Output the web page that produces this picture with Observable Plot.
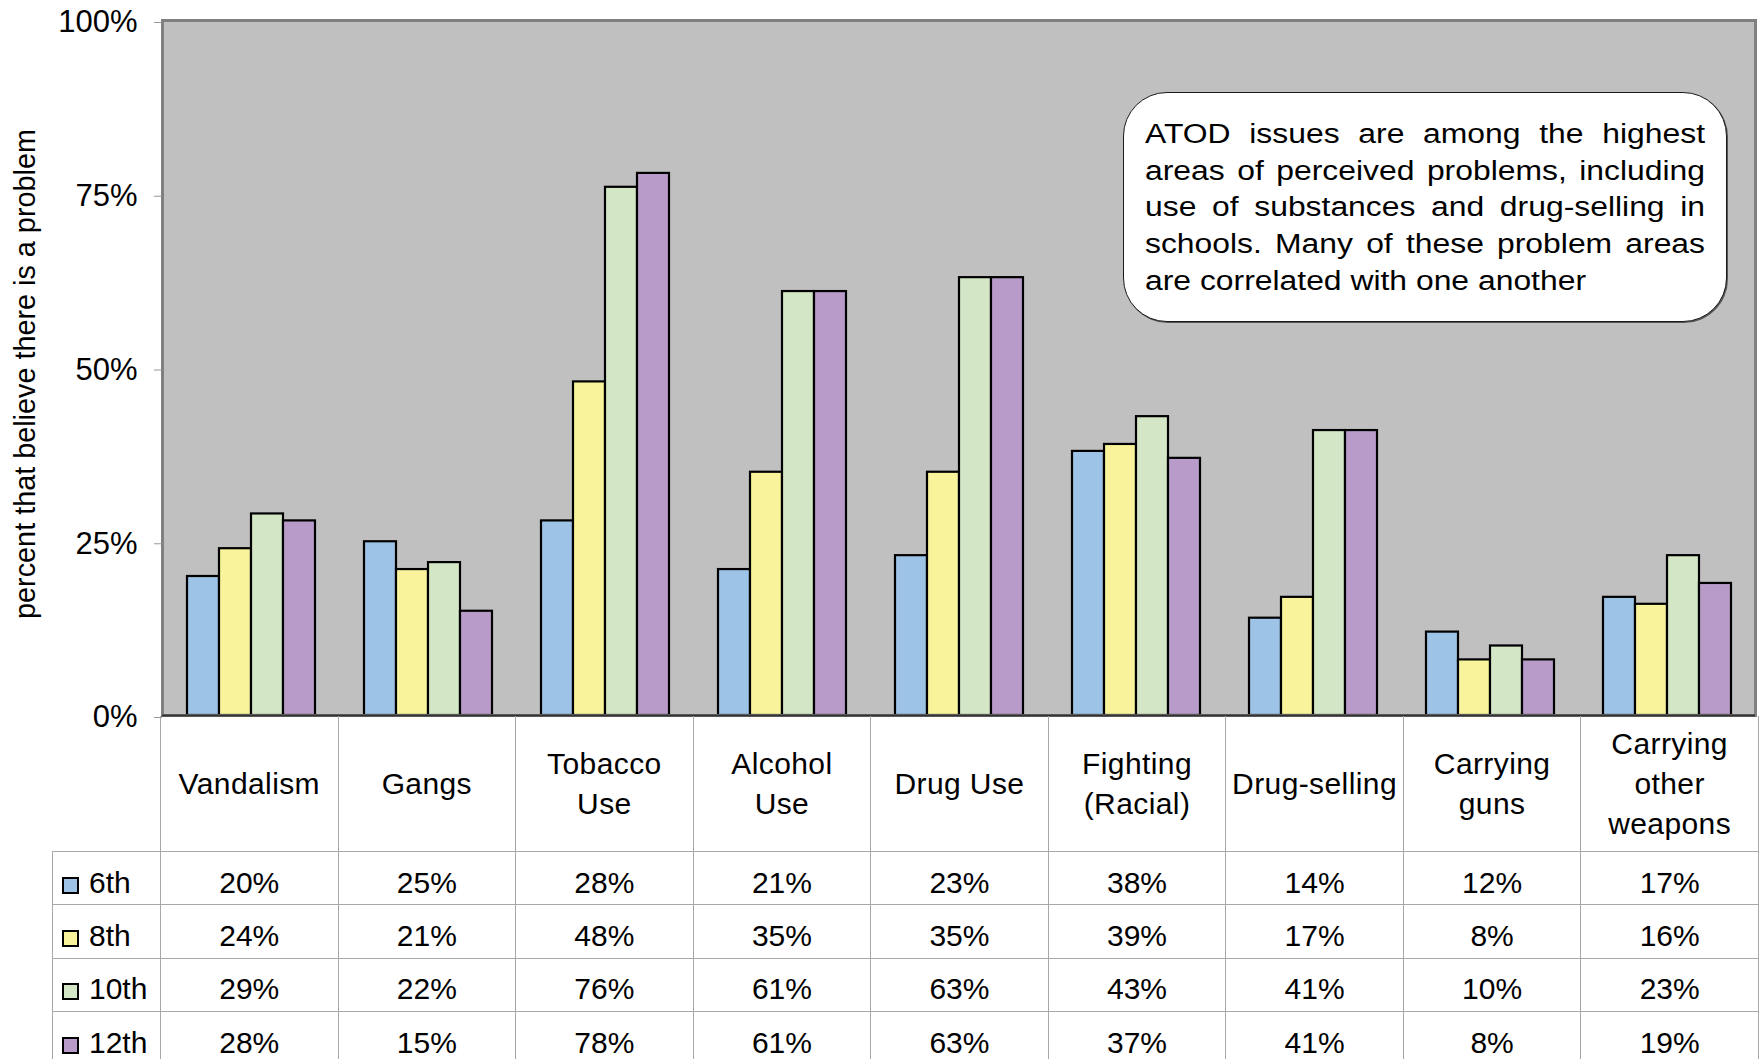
<!DOCTYPE html>
<html>
<head>
<meta charset="utf-8">
<script src="https://cdn.jsdelivr.net/npm/d3@7"></script>
<script src="https://cdn.jsdelivr.net/npm/@observablehq/plot@0.6"></script>
<style>
  html, body { margin: 0; padding: 0; background: #fff; }
  body { font-family: "Liberation Sans", Arial, sans-serif; color: #000; }
  #wrap { position: relative; width: 1762px; height: 1080px; overflow: hidden; }
  #chart { position: absolute; left: 0; top: 0; }
  #tbl { position: absolute; left: 52px; top: 716px; border-collapse: collapse; table-layout: fixed;
         width: 1706px; font-size: 30px; }
  #tbl td { border: 1px solid #a8a8a8; text-align: center; padding: 0; overflow: hidden; white-space: nowrap; }
  #tbl tr.cat td { height: 135px; line-height: 40px; vertical-align: middle; border-top: none; letter-spacing: 0.4px; }
  #tbl tr.cat td.corner { border-left: none; }
  #tbl tr.row td { height: 43.4px; vertical-align: middle; padding-top: 9px; line-height: 34px; }
  #tbl td.leg { text-align: left; padding-left: 9px; }
  .sw { display: inline-block; width: 13px; height: 13px; border: 2px solid #000; margin-right: 10px;
        vertical-align: -1px; }
  #note { position: absolute; left: 1123px; top: 92px; width: 604px; height: 230px; box-sizing: border-box;
          border: 1.5px solid #1a1a1a; border-radius: 44px; background: #fff;
          box-shadow: 1px 1px 0 #555; }
  #noteText { position: absolute; left: 20.5px; top: 23px; width: 474.6px; font-size: 27px; line-height: 36.7px;
              transform: scaleX(1.18); transform-origin: 0 0; }
  #noteText div { text-align: justify; text-align-last: justify; white-space: nowrap; }
  #noteText div.last { text-align-last: left; }
</style>
</head>
<body>
<div id="wrap">
  <div id="chart"></div>
  <div id="note"><div id="noteText"></div></div>
</div>
<script>
// ---- data ----
const categories = ["Vandalism", "Gangs", "Tobacco Use", "Alcohol Use", "Drug Use",
  "Fighting (Racial)", "Drug-selling", "Carrying guns", "Carrying other weapons"];
const categoryLabels = ["Vandalism", "Gangs", "Tobacco\nUse", "Alcohol\nUse", "Drug Use",
  "Fighting\n(Racial)", "Drug-selling", "Carrying\nguns", "Carrying\nother\nweapons"];
const grades = ["6th", "8th", "10th", "12th"];
const gradeColors = ["#9dc3e6", "#f9f39b", "#d3e6c6", "#b89bc8"];
const values6th  = [20, 25, 28, 21, 23, 38, 14, 12, 17];
const values8th  = [24, 21, 48, 35, 35, 39, 17,  8, 16];
const values10th = [29, 22, 76, 61, 63, 43, 41, 10, 23];
const values12th = [28, 15, 78, 61, 63, 37, 41,  8, 19];
const yTicks = [0, 25, 50, 75, 100];
const yTitle = "percent that believe there is a problem";
const noteLines = [
  "ATOD issues are among the highest",
  "areas of perceived problems, including",
  "use of substances and drug-selling in",
  "schools. Many of these problem areas",
  "are correlated with one another"
];

// ---- build ----
const series = [values6th, values8th, values10th, values12th];
const data = categories.flatMap((c, i) =>
  grades.map((g, j) => ({category: c, grade: g, value: series[j][i]})));

const chart = Plot.plot({
  width: 1762,
  height: 716,
  marginTop: 20,
  marginBottom: 1,
  marginLeft: 160,
  marginRight: 5,
  style: {fontFamily: "'Liberation Sans', Arial, sans-serif", fontSize: "30px", color: "#000", background: "transparent", overflow: "visible"},
  fx: {domain: categories, padding: 0, axis: null},
  x: {domain: grades, paddingInner: 0, paddingOuter: 0.732, axis: null},
  y: {domain: [0, 100]},
  color: {domain: grades, range: gradeColors},
  marks: [
    Plot.frame({facet: "super", fill: "#c0c0c0"}),
    Plot.barY(data, {fx: "category", x: "grade", y: "value", fill: "grade", stroke: "#000", strokeWidth: 2.2}),
    Plot.frame({facet: "super", stroke: "#808080", strokeWidth: 3}),
    Plot.ruleY([0], {stroke: "#333", strokeWidth: 2}),
    Plot.axisY({ticks: yTicks, tickFormat: d => d + "%", tickSize: 8, tickPadding: 17,
      stroke: "#999", fontSize: 31, dy: 2, label: null}),
    Plot.text([yTitle], {facet: "super", frameAnchor: "left", textAnchor: "middle", rotate: -90, dx: -148,
      dy: 6, lineAnchor: "top", fontSize: 28.8, fill: "#000"})
  ]
});
document.getElementById("chart").appendChild(chart);

// table below the chart
const tbl = document.createElement("table");
tbl.id = "tbl";
const cg = document.createElement("colgroup");
const c0 = document.createElement("col"); c0.style.width = "108px"; cg.appendChild(c0);
categories.forEach(() => { const c = document.createElement("col"); c.style.width = (1598 / 9) + "px"; cg.appendChild(c); });
tbl.appendChild(cg);
const trc = document.createElement("tr"); trc.className = "cat";
const corner = document.createElement("td"); corner.className = "corner"; trc.appendChild(corner);
categoryLabels.forEach(l => {
  const td = document.createElement("td");
  l.split("\n").forEach((s, k) => { if (k) td.appendChild(document.createElement("br")); td.appendChild(document.createTextNode(s)); });
  trc.appendChild(td);
});
tbl.appendChild(trc);
grades.forEach((g, j) => {
  const tr = document.createElement("tr"); tr.className = "row";
  const lg = document.createElement("td"); lg.className = "leg";
  const sw = document.createElement("span"); sw.className = "sw"; sw.style.background = gradeColors[j];
  lg.appendChild(sw); lg.appendChild(document.createTextNode(g));
  tr.appendChild(lg);
  series[j].forEach(v => { const td = document.createElement("td"); td.textContent = v + "%"; tr.appendChild(td); });
  tbl.appendChild(tr);
});
document.getElementById("wrap").appendChild(tbl);

// callout
const nt = document.getElementById("noteText");
noteLines.forEach((l, i) => {
  const d = document.createElement("div");
  if (i === noteLines.length - 1) d.className = "last";
  d.textContent = l;
  nt.appendChild(d);
});
</script>
</body>
</html>
